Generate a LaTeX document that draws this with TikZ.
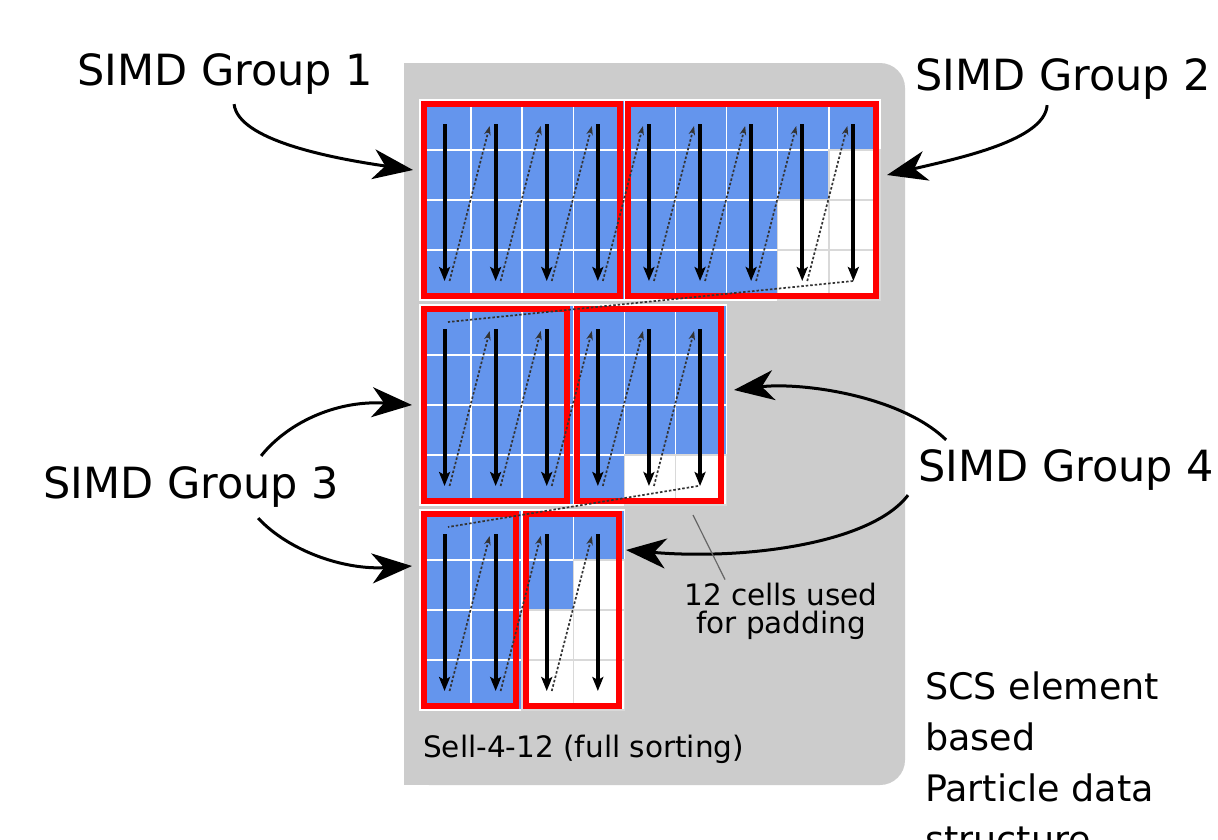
\documentclass[tikz,border=0pt]{standalone}
\usepackage{fontspec}
\setmainfont{DejaVu Sans}
\usetikzlibrary{arrows.meta}
\definecolor{cellblue}{RGB}{100,149,237}
\definecolor{bggray}{RGB}{204,204,204}
\definecolor{boxred}{RGB}{255,0,0}
\newcommand\drawchunk[2]{%
  \foreach \L [count=\i from 0] in {#2} {
    \foreach \r in {0,1,2,3} {
      \pgfmathsetmacro{\xa}{420+\i*51.1}
      \pgfmathsetmacro{\ya}{#1+\r*50}
      \ifnum\r<\L
        \path[bluecell] (\xa,\ya) rectangle ++(51.1,50);
      \else
        \path[padcell] (\xa,\ya) rectangle ++(51.1,50);
      \fi
    }
  }
}
\newcommand\chunkflow[2]{%
  \foreach \i in {1,...,#2} {
    \pgfmathsetmacro{\xc}{420+(\i-0.5)*51.1}
    \draw[flowarrow] (\xc-1,#1+24) -- (\xc-1,#1+181);
  }
  \pgfmathtruncatemacro{\mlast}{#2-1}
  \foreach \i in {1,...,\mlast} {
    \pgfmathsetmacro{\xc}{420+(\i-0.5)*51.1}
    \draw[hoparrow] (\xc+4,#1+181) -- (\xc+51.1-7,#1+26);
  }
}
\begin{document}
\begin{tikzpicture}[x=1pt,y=-1pt,
  lbl/.style={font=\fontsize{43}{50}\selectfont, inner sep=0pt, anchor=base west},
  bluecell/.style={fill=cellblue, draw=white, line width=1.5pt},
  padcell/.style={fill=white, draw=black!15, line width=1.5pt},
  simdbox/.style={draw=boxred, line width=5.5pt},
  flowarrow/.style={line width=4pt, -{Stealth[length=14pt,width=11pt,inset=3pt]}},
  hopline/.style={line width=1.7pt, black!80, dash pattern=on 2.5pt off 2pt},
  hoparrow/.style={hopline, -{Stealth[length=9pt,width=6.5pt]}},
  callout/.style={line width=3pt, -{Stealth[length=40pt,width=30pt,inset=12pt]}},
  note/.style={font=\fontsize{29.5}{28}\selectfont, inner sep=0pt},
]
\useasboundingbox (0,0) rectangle (1218,839);
\clip (0,0) rectangle (1218,839);
\fill[white] (0,0) rectangle (1218,839);
% background panel
\fill[bggray, rounded corners=25pt] (404,63) rectangle (905,785);
\fill[bggray] (404,63) rectangle (860,785);
% cells
\drawchunk{100}{4,4,4,4,4,4,4,2,1}
\drawchunk{305}{4,4,4,4,3,3}
\drawchunk{510}{4,4,2,1}
% SIMD boxes
\draw[simdbox] (424,104) rectangle (620,296);
\draw[simdbox] (628,104) rectangle (876,296);
\draw[simdbox] (424,309) rectangle (567,501);
\draw[simdbox] (577,309) rectangle (721,501);
\draw[simdbox] (424,514) rectangle (516,706);
\draw[simdbox] (526,514) rectangle (619,706);
% flow arrows
\chunkflow{100}{9}
\chunkflow{305}{6}
\chunkflow{510}{4}
\draw[hopline] (853,281) -- (448,322);
\draw[hopline] (698,486) -- (448,527);
% labels
\node[lbl] (l1) at (77,85) {SIMD Group 1};
\node[lbl] (l2) at (915,90) {SIMD Group 2};
\node[lbl] (l3) at (43,498) {SIMD Group 3};
\node[lbl] (l4) at (918,481) {SIMD Group 4};
\node[note, align=center] (pad) at (781,611) {12 cells used\\for padding};
\node[note, anchor=base west] (sell) at (423,757) {Sell-4-12 (full sorting)};
\node[font=\fontsize{36.5}{51}\selectfont, inner sep=0pt, align=left, anchor=north west] (scs) at (925,672) {SCS element\\based\\Particle data\\structure};
% callout targets
\coordinate (t1) at (413,170);
\coordinate (t2) at (887,175);
\coordinate (t3a) at (412,405);
\coordinate (t3b) at (412,566);
\coordinate (t4a) at (734,390);
\coordinate (t4b) at (626,550);
\coordinate (ptr) at (693,515);
\draw[callout] ([xshift=9pt,yshift=-10pt]l1.south) .. controls (238,140) and (330,158) .. (t1);
\draw[callout] ([xshift=-16pt,yshift=-6pt]l2.south) .. controls (1045,140) and (960,158) .. (t2);
\draw[callout] ([xshift=70pt,yshift=10pt]l3.north) .. controls (290,420) and (340,400) .. (t3a);
\draw[callout] ([xshift=67pt,yshift=-11pt]l3.south) .. controls (290,552) and (345,570) .. (t3b);
\draw[callout] ([xshift=-120pt,yshift=9pt]l4.north) .. controls (900,395) and (800,382) .. (t4a);
\draw[callout] ([xshift=-10pt,yshift=-5pt]l4.south west) .. controls (870,545) and (740,560) .. (t4b);
\draw[line width=1.2pt, black!60] (ptr) -- ([xshift=-56pt,yshift=3pt]pad.north);
\end{tikzpicture}
\end{document}
